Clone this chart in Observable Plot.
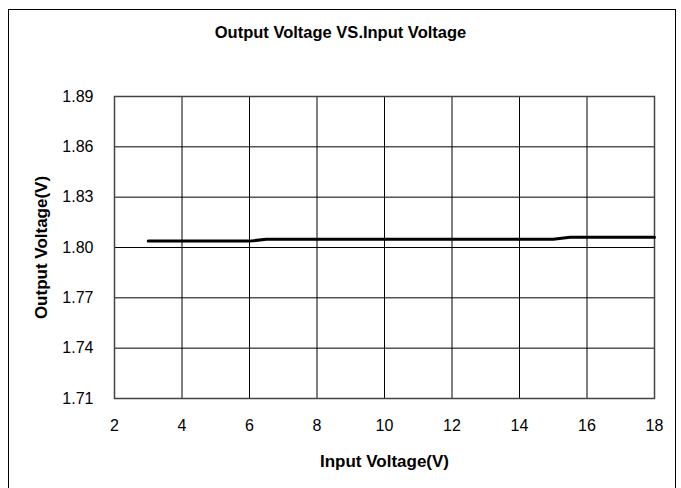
<!DOCTYPE html>
<html>
<head>
<meta charset="utf-8">
<script src="https://cdn.jsdelivr.net/npm/d3@7"></script>
<script src="https://cdn.jsdelivr.net/npm/@observablehq/plot@0.6"></script>
<style>
  html, body { margin: 0; padding: 0; background: #fff; }
  #wrap { position: relative; width: 681px; height: 488px; overflow: hidden; font-family: "Liberation Sans", Arial, sans-serif; }
  #border { position: absolute; left: 8px; top: 9px; width: 668px; height: 500px; border: 1.5px solid #000; box-sizing: border-box; }
  #title { position: absolute; left: 0; width: 681px; top: 23px; text-align: center; font-weight: bold; font-size: 16.5px; color: #000; }
  #chart { position: absolute; left: 0; top: 0; }
</style>
</head>
<body>
<div id="wrap">
  <div id="border"></div>
  <div id="chart"></div>
  <div id="title">Output Voltage VS.Input Voltage</div>
</div>
<script>
const inputVoltage = [3, 3.5, 4, 4.5, 5, 5.5, 6, 6.5, 7, 7.5, 8, 8.5, 9, 9.5, 10, 10.5, 11, 11.5, 12, 12.5, 13, 13.5, 14, 14.5, 15, 15.5, 16, 16.5, 17, 17.5, 18];
const outputVoltage = [1.8038, 1.8038, 1.8038, 1.8038, 1.8038, 1.8038, 1.8038, 1.8049, 1.8049, 1.8049, 1.8049, 1.8049, 1.8049, 1.8049, 1.8049, 1.8049, 1.8049, 1.8049, 1.8049, 1.8049, 1.8049, 1.8049, 1.8049, 1.8049, 1.8049, 1.8061, 1.8061, 1.8061, 1.8061, 1.8061, 1.8061];
const xTicks = [2, 4, 6, 8, 10, 12, 14, 16, 18];
const yTicks = [1.71, 1.74, 1.77, 1.80, 1.83, 1.86, 1.89];

const data = inputVoltage.map((x, i) => ({x, y: outputVoltage[i]}));

const chart = Plot.plot({
  width: 681,
  height: 488,
  marginLeft: 114,
  marginRight: 27,
  marginTop: 96,
  marginBottom: 90,
  style: { fontFamily: "Liberation Sans, Arial, sans-serif", fontSize: "16px", color: "#000", background: "transparent" },
  x: { domain: [2, 18] },
  y: { domain: [1.71, 1.89] },
  marks: [
    Plot.gridX(xTicks, { stroke: "#000", strokeOpacity: 1, strokeWidth: 1 }),
    Plot.gridY(yTicks, { stroke: "#000", strokeOpacity: 1, strokeWidth: 1 }),
    Plot.frame({ stroke: "#444", strokeWidth: 1.5 }),
    Plot.axisX(xTicks, { tickSize: 0, tickPadding: 21, fontSize: 16, label: "Input Voltage(V)", labelAnchor: "center", labelArrow: "none", labelOffset: 68 }),
    Plot.axisY(yTicks, { tickSize: 0, tickPadding: 21, tickFormat: d3.format(".2f"), fontSize: 16, label: "Output Voltage(V)", labelAnchor: "center", labelArrow: "none", labelOffset: 80 }),
    Plot.line(data, { x: "x", y: "y", stroke: "#000", strokeWidth: 3 })
  ]
});
chart.querySelectorAll('[aria-label="x-axis label"] text, [aria-label="y-axis label"] text').forEach(t => { t.style.fontWeight = "bold"; t.style.fontSize = "17px"; });
document.getElementById("chart").appendChild(chart);
</script>
</body>
</html>
